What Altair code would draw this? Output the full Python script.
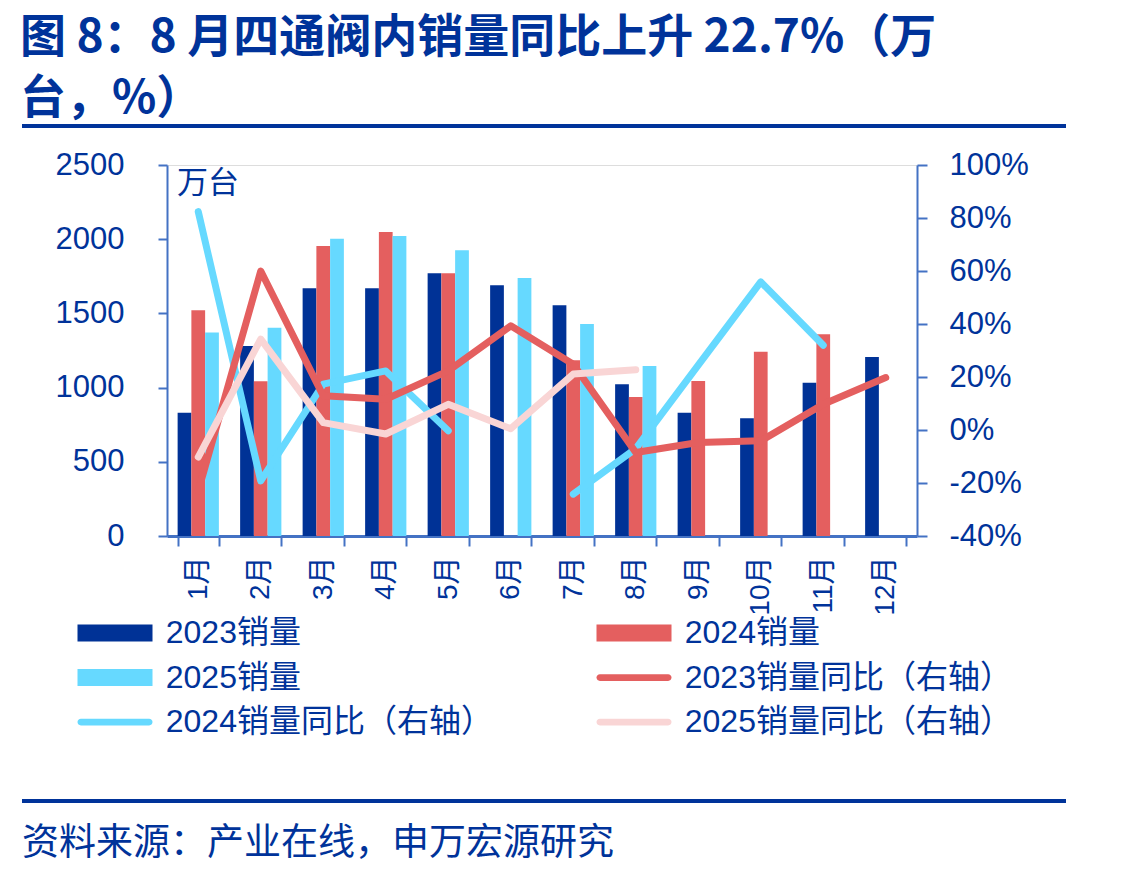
import altair as alt
import pandas as pd

# ---------------- data ----------------
months = ["1月", "2月", "3月", "4月", "5月", "6月", "7月", "8月", "9月", "10月", "11月", "12月"]

sales_2023 = [830, 1280, 1670, 1670, 1770, 1690, 1555, 1023, 831, 794, 1032, 1207]
sales_2024 = [1522, 1043, 1955, 2048, 1771, None, 1185, 937, 1045, 1241, 1360, None]
sales_2025 = [1371, 1403, 2003, 2021, 1926, 1738, 1428, 1146, None, None, None, None]

yoy_2023 = [-23, 60, 12.9, 11.6, 22.3, 39.3, 24.8, -8.5, -4.7, -4.1, 9.7, 19.8]
yoy_2024 = [82.4, -19.2, 17.3, 22.3, -0.3, None, -24.2, -7.0, 24.5, 55.9, 32.0, None]
yoy_2025 = [-10.2, 34.3, 2.8, -1.5, 9.7, 0.5, 21.1, 22.7, None, None, None, None]

bar_series = ["2023销量", "2024销量", "2025销量"]
line_series = ["2023销量同比（右轴）", "2024销量同比（右轴）", "2025销量同比（右轴）"]
legend_items = ["2023销量", "2024销量", "2025销量",
                "2023销量同比（右轴）", "2024销量同比（右轴）", "2025销量同比（右轴）"]

left_ticks = [0, 500, 1000, 1500, 2000, 2500]
right_ticks = [-40, -20, 0, 20, 40, 60, 80, 100]

title_lines = ["图 8：8 月四通阀内销量同比上升 22.7%（万", "台，%）"]
unit_text = ["万台"]
source_text = ["资料来源：产业在线，申万宏源研究"]

# ---------------- styles ----------------
DARK = "#003296"
RED = "#E45F5F"
CYAN = "#66D9FF"
PINK = "#F9D5D5"
AX = "#4472C4"
TXT = "#00339A"
FONT = "Liberation Sans, Arial, Noto Sans CJK SC"
TFONT = "Noto Sans CJK SC"

bar_colors = [DARK, RED, CYAN]
legend_colors = [DARK, RED, CYAN, RED, CYAN, PINK]
BAR_SYM = "M-2,-0.453H2V0.453H-2Z"
LINE_SYM = "M-1.82,-0.18H1.82A0.18,0.18 0 0 1 1.82,0.18H-1.82A0.18,0.18 0 0 1 -1.82,-0.18Z"
legend_shapes = [BAR_SYM, BAR_SYM, BAR_SYM, LINE_SYM, LINE_SYM, LINE_SYM]

# ---------------- tables ----------------
bar_rows = []
for s, vals in zip(bar_series, [sales_2023, sales_2024, sales_2025]):
    for m, v in zip(months, vals):
        bar_rows.append({"month": m, "series": s, "value": v})
bar_df = pd.DataFrame(bar_rows)

line_rows = []
for s, vals in zip(line_series, [yoy_2023, yoy_2024, yoy_2025]):
    for m, v in zip(months, vals):
        line_rows.append({"month": m, "series": s, "yoy": v})
line_df = pd.DataFrame(line_rows)

legend_df = pd.DataFrame({"item": legend_items, "value": [None] * len(legend_items)})

W, H = 750, 371

x_enc = alt.X(
    "month:N", sort=months, title=None,
    scale=alt.Scale(paddingInner=0.34, paddingOuter=0.17),
    axis=alt.Axis(labelAngle=270, labelFontSize=28, labelFont=FONT, labelColor=TXT,
                  domainColor=AX, domainWidth=3, tickColor=AX, tickWidth=2, tickSize=10,
                  tickBand="extent", labelPadding=10),
)

left_axis = alt.Axis(values=left_ticks, title=None, grid=False, orient="left", format="d",
                     labelFontSize=31, labelFont=FONT, labelColor=TXT,
                     domainColor=AX, domainWidth=2, tickColor=AX, tickWidth=2,
                     tickSize=9, labelPadding=34)
right_axis = alt.Axis(values=right_ticks, title=None, grid=False, orient="right",
                      labelFontSize=31, labelFont=FONT, labelColor=TXT,
                      domainColor=AX, domainWidth=2, tickColor=AX, tickWidth=2,
                      tickSize=10, labelPadding=22, labelExpr="datum.value + '%'")

bars = alt.Chart(bar_df).mark_bar().encode(
    x=x_enc,
    xOffset=alt.XOffset("series:N", sort=bar_series,
                        scale=alt.Scale(paddingInner=0, paddingOuter=0)),
    y=alt.Y("value:Q", scale=alt.Scale(domain=[0, 2500], nice=False), axis=left_axis),
    color=alt.Color("series:N", scale=alt.Scale(domain=bar_series, range=bar_colors), legend=None),
)

legend_pts = alt.Chart(legend_df).mark_point(filled=True, opacity=1).encode(
    y=alt.Y("value:Q", scale=alt.Scale(domain=[0, 2500], nice=False), axis=left_axis),
    color=alt.Color("item:N", scale=alt.Scale(domain=legend_items, range=legend_colors),
                    legend=alt.Legend(title=None, orient="none", legendX=-71, legendY=449,
                                      direction="horizontal", columns=2, columnPadding=103,
                                      rowPadding=9.5, labelFontSize=32, labelFont=FONT,
                                      labelColor=TXT, labelLimit=600, labelOffset=31.75,
                                      symbolSize=1406.25, symbolStrokeWidth=0, symbolOpacity=1)),
    shape=alt.Shape("item:N", scale=alt.Scale(domain=legend_items, range=legend_shapes)),
)

left_layer = alt.layer(bars, legend_pts).resolve_scale(color="independent", shape="independent")


def yoy_line(series, color):
    return alt.Chart(line_df).transform_filter(
        alt.datum.series == series
    ).mark_line(color=color, strokeWidth=7, strokeCap="round", strokeJoin="round").encode(
        x=x_enc,
        y=alt.Y("yoy:Q", scale=alt.Scale(domain=[-40, 100], nice=False), axis=right_axis),
    )


lines = alt.layer(
    yoy_line(line_series[1], CYAN),
    yoy_line(line_series[0], RED),
    yoy_line(line_series[2], PINK),
)

rule_top = alt.Chart(pd.DataFrame({"k": [0]})).mark_rule(color=TXT, strokeWidth=4).encode(
    x=alt.value(-145), x2=alt.value(899), y=alt.value(-39))
rule_bottom = alt.Chart(pd.DataFrame({"k": [0]})).mark_rule(color=TXT, strokeWidth=4).encode(
    x=alt.value(-145), x2=alt.value(899), y=alt.value(636))
unit_label = alt.Chart(pd.DataFrame({"t": unit_text})).mark_text(
    align="left", baseline="middle", fontSize=31, font=FONT, color=TXT).encode(
    x=alt.value(10), y=alt.value(19), text="t:N")
source_label = alt.Chart(pd.DataFrame({"t": source_text})).mark_text(
    align="left", baseline="middle", fontSize=37, font=FONT, color=TXT).encode(
    x=alt.value(-145), y=alt.value(679), text="t:N")

chart = alt.layer(left_layer, lines, rule_top, rule_bottom, unit_label, source_label).resolve_scale(
    y="independent"
).properties(
    width=W, height=H,
    padding={"left": 20, "top": 15, "right": 5, "bottom": 5},
    title=alt.TitleParams(text=title_lines, anchor="start", frame="bounds", fontSize=46, font=TFONT,
                          fontWeight="bold", color=TXT, lineHeight=61, offset=1),
).configure_view(stroke=None).configure(background="white")

chart.save("out.html", embed_options={"renderer": "svg", "actions": False})
